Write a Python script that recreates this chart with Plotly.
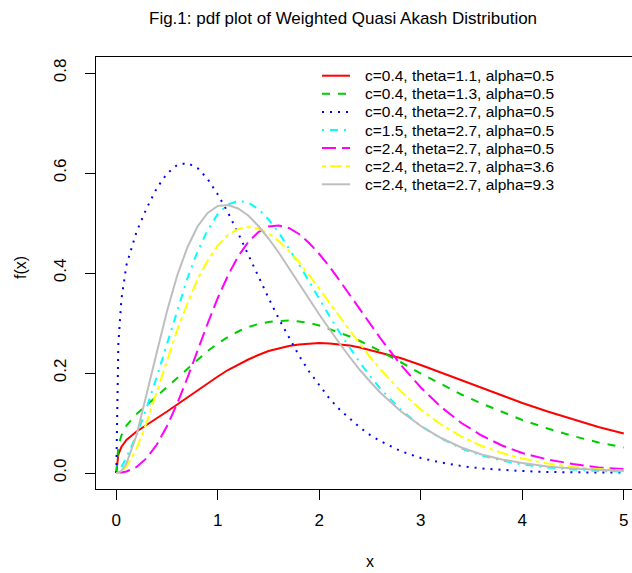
import plotly.graph_objects as go

# ---------------- data ----------------
x_vals = [0, 0.01, 0.02, 0.05, 0.1, 0.2, 0.3, 0.4, 0.5, 0.6, 0.7, 0.8, 0.9, 1.0,
          1.1, 1.2, 1.3, 1.4, 1.5, 1.6, 1.7, 1.8, 1.9, 2.0, 2.1, 2.2, 2.3, 2.4,
          2.5, 2.6, 2.8, 3.0, 3.2, 3.4, 3.6, 3.8, 4.0, 4.25, 4.5, 4.75, 5.0]

red_c04_t11_a05 = [0, 0.028, 0.037, 0.052, 0.066, 0.083, 0.096, 0.109, 0.123, 0.137,
                   0.151, 0.165, 0.18, 0.193, 0.206, 0.217, 0.227, 0.236, 0.244, 0.249,
                   0.254, 0.257, 0.259, 0.26, 0.259, 0.257, 0.255, 0.251, 0.246, 0.241,
                   0.23, 0.216, 0.201, 0.186, 0.17, 0.155, 0.14, 0.123, 0.107, 0.092, 0.079]
green_c04_t13_a05 = [0, 0.041, 0.054, 0.075, 0.095, 0.118, 0.136, 0.154, 0.172, 0.191,
                     0.209, 0.227, 0.244, 0.259, 0.272, 0.283, 0.292, 0.298, 0.302, 0.304,
                     0.305, 0.303, 0.3, 0.295, 0.288, 0.281, 0.273, 0.264, 0.254, 0.244,
                     0.222, 0.199, 0.178, 0.157, 0.139, 0.122, 0.106, 0.089, 0.074, 0.061, 0.051]
blue_c04_t27_a05 = [0, 0.2, 0.258, 0.347, 0.416, 0.483, 0.53, 0.57, 0.599, 0.616,
                    0.62, 0.61, 0.588, 0.557, 0.521, 0.48, 0.436, 0.393, 0.35, 0.309,
                    0.271, 0.235, 0.203, 0.175, 0.149, 0.127, 0.108, 0.091, 0.076, 0.064,
                    0.044, 0.03, 0.021, 0.014, 0.009, 0.006, 0.004, 0.002, 0.001, 0.001, 0.001]
cyan_c15_t27_a05 = [0, 0.001, 0.003, 0.012, 0.031, 0.076, 0.131, 0.193, 0.259, 0.326,
                    0.389, 0.443, 0.486, 0.518, 0.537, 0.544, 0.541, 0.528, 0.507, 0.481,
                    0.45, 0.417, 0.383, 0.348, 0.314, 0.281, 0.25, 0.221, 0.194, 0.169,
                    0.127, 0.094, 0.069, 0.049, 0.035, 0.025, 0.017, 0.011, 0.007, 0.004, 0.003]
magenta_c24_t27_a05 = [0, 0, 0, 0.001, 0.003, 0.012, 0.03, 0.057, 0.094, 0.139,
                       0.19, 0.245, 0.299, 0.35, 0.395, 0.433, 0.462, 0.482, 0.493, 0.495,
                       0.49, 0.478, 0.46, 0.438, 0.413, 0.385, 0.356, 0.327, 0.298, 0.27,
                       0.217, 0.171, 0.132, 0.1, 0.075, 0.055, 0.04, 0.027, 0.018, 0.011, 0.008]
yellow_c24_t27_a36 = [0, 0, 0, 0.002, 0.012, 0.049, 0.102, 0.163, 0.226, 0.286,
                      0.339, 0.387, 0.425, 0.455, 0.476, 0.488, 0.492, 0.489, 0.479, 0.464,
                      0.444, 0.422, 0.396, 0.369, 0.341, 0.313, 0.285, 0.258, 0.232, 0.208,
                      0.164, 0.127, 0.097, 0.073, 0.054, 0.04, 0.029, 0.019, 0.012, 0.008, 0.005]
gray_c24_t27_a93 = [0, 0, 0.001, 0.004, 0.019, 0.076, 0.156, 0.242, 0.324, 0.395,
                    0.451, 0.493, 0.52, 0.534, 0.536, 0.529, 0.515, 0.494, 0.469, 0.441,
                    0.41, 0.38, 0.348, 0.317, 0.287, 0.259, 0.232, 0.206, 0.183, 0.161,
                    0.124, 0.094, 0.07, 0.051, 0.037, 0.027, 0.02, 0.013, 0.009, 0.006, 0.004]

series_names = ["c=0.4, theta=1.1, alpha=0.5",
                "c=0.4, theta=1.3, alpha=0.5",
                "c=0.4, theta=2.7, alpha=0.5",
                "c=1.5, theta=2.7, alpha=0.5",
                "c=2.4, theta=2.7, alpha=0.5",
                "c=2.4, theta=2.7, alpha=3.6",
                "c=2.4, theta=2.7, alpha=9.3"]
series_values = [red_c04_t11_a05, green_c04_t13_a05, blue_c04_t27_a05, cyan_c15_t27_a05,
                 magenta_c24_t27_a05, yellow_c24_t27_a36, gray_c24_t27_a93]

x_ticks = [0, 1, 2, 3, 4, 5]
y_ticks = [0.0, 0.2, 0.4, 0.6, 0.8]
y_tick_labels = ["0.0", "0.2", "0.4", "0.6", "0.8"]

title_text = "Fig.1: pdf plot of Weighted Quasi Akash Distribution"
x_label = "x"
y_label = "f(x)"

# ---------------- styles ----------------
colors = ["#FF0000", "#00CD00", "#0000FF", "#00FFFF", "#FF00FF", "#FFFF00", "#BEBEBE"]
dashes = ["solid", "8px,8px", "2px,6px", "2px,6px,8px,6px", "14px,6px", "4px,4px,12px,4px", "solid"]
FONT = "Liberation Sans, Arial, sans-serif"

W, H = 632, 573
ML, MR, MT, MB = 96, 0, 57, 84


def px_to_paper_x(px):
    return (px - ML) / (W - ML - MR)


def px_to_paper_y(py):
    return (H - MB - py) / (H - MT - MB)


fig = go.Figure()
for name, vals, col, dsh in zip(series_names, series_values, colors, dashes):
    fig.add_trace(go.Scatter(x=x_vals, y=vals, mode="lines", name=name,
                             line=dict(color=col, width=2, dash=dsh),
                             showlegend=False, hoverinfo="skip"))

# manual legend (R style, no box)
shapes = []
annotations = []
leg_top, leg_step = 75.7, 18.1
for i, (name, col, dsh) in enumerate(zip(series_names, colors, dashes)):
    yy = px_to_paper_y(leg_top + i * leg_step)
    shapes.append(dict(type="line", xref="paper", yref="paper",
                       x0=px_to_paper_x(322), x1=px_to_paper_x(350), y0=yy, y1=yy,
                       line=dict(color=col, width=2, dash=dsh)))
    annotations.append(dict(text=name, xref="paper", yref="paper",
                            x=px_to_paper_x(363), y=yy, xanchor="left", yanchor="middle",
                            showarrow=False, font=dict(family=FONT, size=15.5, color="#000")))

# title and axis labels
annotations.append(dict(text=title_text, xref="paper", yref="paper",
                        x=px_to_paper_x(343), y=px_to_paper_y(18), xanchor="center",
                        yanchor="middle", showarrow=False,
                        font=dict(family=FONT, size=17, color="#000")))
annotations.append(dict(text=x_label, xref="paper", yref="paper",
                        x=px_to_paper_x(370), y=px_to_paper_y(561), xanchor="center",
                        yanchor="middle", showarrow=False,
                        font=dict(family=FONT, size=16, color="#000")))
annotations.append(dict(text=y_label, xref="paper", yref="paper",
                        x=px_to_paper_x(20), y=px_to_paper_y(268), xanchor="center",
                        yanchor="middle", showarrow=False, textangle=-90,
                        font=dict(family=FONT, size=16, color="#000")))

fig.update_layout(
    width=W, height=H,
    margin=dict(l=ML, r=MR, t=MT, b=MB, pad=0),
    paper_bgcolor="white", plot_bgcolor="white",
    shapes=shapes, annotations=annotations,
    font=dict(family=FONT, color="#000"),
    xaxis=dict(range=[-0.2, 5.081], tickvals=x_ticks, ticks="outside", ticklen=10,
               tickwidth=1, tickcolor="#000", showline=True, linecolor="#000",
               linewidth=1, mirror=True, showgrid=False, zeroline=False,
               tickfont=dict(family=FONT, size=17, color="#000"), ticklabelstandoff=6),
    yaxis=dict(range=[-0.032, 0.832], tickvals=y_ticks, ticktext=y_tick_labels,
               tickangle=-90, ticks="outside", ticklen=10, tickwidth=1, tickcolor="#000",
               showline=True, linecolor="#000", linewidth=1, mirror=False,
               showgrid=False, zeroline=False,
               tickfont=dict(family=FONT, size=17, color="#000"), ticklabelstandoff=12),
)

fig.write_html("out.html")
